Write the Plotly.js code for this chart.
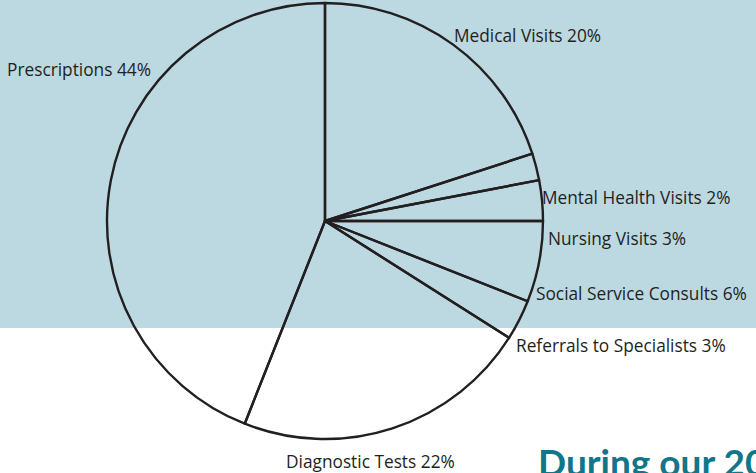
<!DOCTYPE html>
<html>
<head>
<meta charset="utf-8">
<script src="https://cdn.plot.ly/plotly-3.0.1.min.js"></script>
<style>html,body{margin:0;padding:0;background:#fff;}#chart{width:756px;height:473px;}</style>
</head>
<body>
<div id="chart"></div>
<script>
const categories = ["Medical Visits", "Mental Health Visits", "Nursing Visits", "Social Service Consults", "Referrals to Specialists", "Diagnostic Tests", "Prescriptions"];
const values = [20, 2, 3, 6, 3, 22, 44];
const labelText = categories.map((c, i) => c + " " + values[i] + "%");

const W = 756, H = 473;
const px = x => x / W;
const py = y => 1 - y / H;

// label placements (pixels: left edge / centre)
const labelPos = [
  {x: 452, y: 36, anchor: "left"},
  {x: 540, y: 197, anchor: "left"},
  {x: 546, y: 239, anchor: "left"},
  {x: 534, y: 293, anchor: "left"},
  {x: 514, y: 345, anchor: "left"},
  {x: 370, y: 461, anchor: "center"},
  {x: 5, y: 69, anchor: "left"}
];

const annotations = labelText.map((t, i) => ({
  text: t, xref: "paper", yref: "paper",
  x: px(labelPos[i].x), y: py(labelPos[i].y),
  xanchor: labelPos[i].anchor, yanchor: "middle", showarrow: false,
  font: {family: "'Open Sans', sans-serif", size: 17.3, color: "#231f20"}
}));
annotations.push({
  text: "<b>During our 20</b>", xref: "paper", yref: "paper",
  x: px(536), y: py(437), xanchor: "left", yanchor: "top", showarrow: false,
  font: {family: "Lato, sans-serif", size: 37, color: "#0f7789"}
});

const trace = {
  type: "pie",
  labels: categories,
  values: values,
  sort: false,
  direction: "clockwise",
  rotation: 0,
  textinfo: "none",
  hoverinfo: "label+percent",
  marker: {colors: categories.map(() => "rgba(0,0,0,0)"), line: {color: "#231f20", width: 2.4}},
  domain: {x: [px(325 - 218), px(325 + 218)], y: [py(439), py(3)]},
  showlegend: false
};

const layout = {
  width: W, height: H,
  margin: {l: 0, r: 0, t: 0, b: 0},
  paper_bgcolor: "#ffffff",
  plot_bgcolor: "rgba(0,0,0,0)",
  showlegend: false,
  shapes: [{type: "rect", xref: "paper", yref: "paper", x0: 0, x1: 1, y0: py(328), y1: 1,
            fillcolor: "#bcd9e2", line: {width: 0}, layer: "below"}],
  annotations: annotations
};

Plotly.newPlot("chart", [trace], layout, {displayModeBar: false, staticPlot: true});
</script>
</body>
</html>
